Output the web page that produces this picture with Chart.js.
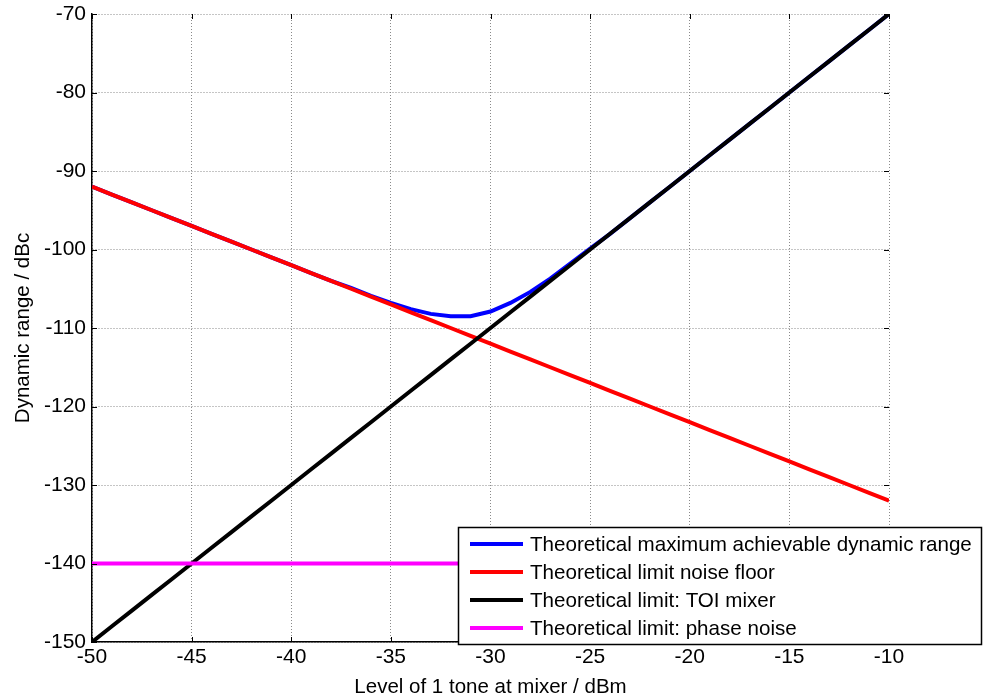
<!DOCTYPE html>
<html><head><meta charset="utf-8">
<script src="https://cdn.jsdelivr.net/npm/chart.js@4/dist/chart.umd.min.js"></script>
<style>html,body{margin:0;padding:0;background:#fff;}#wrap{width:986px;height:699px;position:relative;}</style>
</head><body><div id="wrap"><canvas id="c" width="986" height="699"></canvas></div>
<script>
const levels = [-50,-49,-48,-47,-46,-45,-44,-43,-42,-41,-40,-39,-38,-37,-36,-35,-34,-33,-32,-31,-30,-29,-28,-27,-26,-25,-24,-23,-22,-21,-20,-19,-18,-17,-16,-15,-14,-13,-12,-11,-10];
const maxRange = [-92.0,-93.0,-94.0,-95.0,-96.0,-97.0,-98.0,-99.0,-100.0,-101.0,-102.0,-103.0,-104.0,-104.9,-105.9,-106.8,-107.6,-108.2,-108.5,-108.5,-107.9,-106.8,-105.4,-103.7,-101.8,-99.9,-98.0,-96.0,-94.0,-92.0,-90.0,-88.0,-86.0,-84.0,-82.0,-80.0,-78.0,-76.0,-74.0,-72.0,-70.0];
const noiseFloor = [-92,-93,-94,-95,-96,-97,-98,-99,-100,-101,-102,-103,-104,-105,-106,-107,-108,-109,-110,-111,-112,-113,-114,-115,-116,-117,-118,-119,-120,-121,-122,-123,-124,-125,-126,-127,-128,-129,-130,-131,-132];
const toiMixer = [-150,-148,-146,-144,-142,-140,-138,-136,-134,-132,-130,-128,-126,-124,-122,-120,-118,-116,-114,-112,-110,-108,-106,-104,-102,-100,-98,-96,-94,-92,-90,-88,-86,-84,-82,-80,-78,-76,-74,-72,-70];
const phaseNoise = [-140,-140,-140,-140,-140,-140,-140,-140,-140,-140,-140,-140,-140,-140,-140,-140,-140,-140,-140,-140,-140,-140,-140,-140,-140,-140,-140,-140,-140,-140,-140,-140,-140,-140,-140,-140,-140,-140,-140,-140,-140];
const seriesLabels = ['Theoretical maximum achievable dynamic range','Theoretical limit noise floor','Theoretical limit: TOI mixer','Theoretical limit: phase noise'];
const xTitle = 'Level of 1 tone at mixer / dBm';
const yTitle = 'Dynamic range / dBc';

const FONT = '"Liberation Sans", Arial, sans-serif';
const pts = arr => levels.map((x,i)=>({x:x,y:arr[i]}));
const colors = ['#0000ff','#ff0000','#000000','#ff00ff'];
const seriesData = [maxRange, noiseFloor, toiMixer, phaseNoise];

const inwardTicks = {
  id:'inwardTicks',
  afterDatasetsDraw(chart){
    const ctx = chart.ctx, a = chart.chartArea, xs = chart.scales.x, ys = chart.scales.y;
    ctx.save(); ctx.strokeStyle='#000'; ctx.lineWidth=1; ctx.beginPath();
    xs.ticks.forEach(t=>{const p=Math.round(xs.getPixelForValue(t.value))+0.5;
      ctx.moveTo(p,a.bottom); ctx.lineTo(p,a.bottom-5); ctx.moveTo(p,a.top); ctx.lineTo(p,a.top+5);});
    ys.ticks.forEach(t=>{const p=Math.round(ys.getPixelForValue(t.value))+0.5;
      ctx.moveTo(a.left,p); ctx.lineTo(a.left+5,p); ctx.moveTo(a.right,p); ctx.lineTo(a.right-5,p);});
    ctx.stroke(); ctx.restore();
  }
};
const boxLegend = {
  id:'boxLegend',
  afterDraw(chart){
    const ctx = chart.ctx;
    const bx=458, by=527, bw=523, bh=117;
    ctx.save();
    ctx.fillStyle='#fff'; ctx.fillRect(bx,by,bw,bh);
    ctx.strokeStyle='#000'; ctx.lineWidth=1.5; ctx.strokeRect(bx+0.5,by+0.5,bw,bh);
    ctx.font='20.6px '+FONT; ctx.textBaseline='middle'; ctx.textAlign='left';
    chart.data.datasets.forEach((ds,i)=>{
      const y = 544 + i*28;
      ctx.strokeStyle = ds.borderColor; ctx.lineWidth=4; ctx.beginPath();
      ctx.moveTo(470,y); ctx.lineTo(523,y); ctx.stroke();
      ctx.fillStyle='#000'; ctx.fillText(ds.label, 530, y+1);
    });
    ctx.restore();
  }
};

new Chart(document.getElementById('c'), {
  type:'line',
  data:{ datasets: seriesLabels.map((lab,i)=>({
    label: lab, data: pts(seriesData[i]), borderColor: colors[i], backgroundColor: colors[i],
    borderWidth: 4, pointRadius: 0, fill:false, tension:0, order: 4-i
  }))},
  options:{
    responsive:false, devicePixelRatio:1, animation:false,
    layout:{padding:{top:14,right:97,left:0,bottom:0}},
    plugins:{legend:{display:false}, tooltip:{enabled:false}},
    scales:{
      x:{type:'linear', min:-50, max:-10,
        afterFit: s=>{s.height=57;},
        ticks:{stepSize:5, color:'#000', font:{family:FONT,size:21}, padding:3, maxRotation:0},
        grid:{color:'#8a8a8a', lineWidth:1, drawTicks:false},
        border:{display:true, color:'#000', width:1.5, dash:[1,2]},
        title:{display:true, text:xTitle, color:'#000', font:{family:FONT,size:20.5, lineHeight:1.1}, padding:{top:0,bottom:0}}
      },
      y:{type:'linear', min:-150, max:-70,
        afterFit: s=>{s.width=92; s.paddingTop=4; s.paddingBottom=4;},
        ticks:{stepSize:10, color:'#000', font:{family:FONT,size:21}, padding:6},
        grid:{color:'#8a8a8a', lineWidth:1, drawTicks:false},
        border:{display:true, color:'#000', width:1.5, dash:[1,2]},
        title:{display:true, text:yTitle, color:'#000', font:{family:FONT,size:20.5, lineHeight:1.1}, padding:{top:12,bottom:0}}
      }
    }
  },
  plugins:[inwardTicks, boxLegend]
});
</script></body></html>
